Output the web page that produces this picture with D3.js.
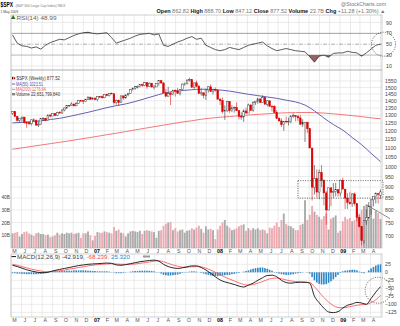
<!DOCTYPE html>
<html>
<head>
<meta charset="utf-8">
<script src="https://d3js.org/d3.v7.min.js"></script>
<style>
body { margin: 0; background: #fff; }
text { font-family: "Liberation Sans", Arial, sans-serif; }
</style>
</head>
<body>
<svg width="400" height="326"></svg>
<script>
// weekly $SPX bars, week ending 5 May 2006 .. 1 May 2009
var opens = [1312.0,1325.8,1291.2,1267.0,1280.2,1288.2,1252.3,1251.5,1244.5,1270.2,1265.5,1236.2,1240.3,1278.6,1279.4,1266.7,1302.3,1295.1,1311.0,1298.9,1319.7,1314.8,1335.9,1349.6,1365.6,1368.6,1377.3,1364.3,1380.9,1401.2,1400.9,1396.7,1409.8,1427.1,1410.8,
 1418.3,1409.7,1430.7,1430.5,1422.2,1448.4,1438.1,1455.5,1451.2,1387.2,1402.8,1387.0,1436.1,1420.9,1443.8,1452.9,1484.4,1494.1,1505.6,1505.9,1522.8,1515.7,1536.3,1507.7,1532.9,1502.6,1503.4,1530.4,1552.5,1534.1,1459.0,1433.1,1453.6,1445.9,1479.4,1474.0,1453.6,1484.3,1525.8,1526.8,1557.6,1561.8,1500.6,1535.3,1509.7,1453.7,1458.7,1440.7,1481.1,1504.7,1468.0,1484.5,
 1478.5,1411.6,1401.0,1325.2,1330.6,1395.4,1331.3,1350.0,1353.1,1330.6,1293.4,1288.1,1329.5,1315.2,1370.4,1332.8,1390.3,1397.8,1413.9,1388.3,1425.4,1375.9,1400.4,1360.7,1360.0,1317.9,1278.4,1262.9,1239.5,1260.7,1257.8,1260.3,1296.3,1298.2,1292.2,1282.8,1242.3,1251.7,1255.1,1213.3,1099.2,899.2,940.6,876.8,968.8,931.0,873.3,800.0,896.2,876.1,879.7,887.9,
 872.8,931.8,890.4,850.1,832.0,825.9,868.6,826.8,770.1,735.1,683.4,756.6,768.5,815.9,842.5,856.6,869.6,862.8];
var highs = [1326.7,1326.7,1294,1281,1290,1288,1258,1258,1272,1281,1273,1261,1280,1287,1283,1303,1304,1312,1315,1324,1328,1340,1353,1366,1370,1389.5,1381,1392,1403.8,1407,1402,1415,1431.6,1428,1427,
 1429,1431.2,1435,1441,1449.3,1452,1456.8,1461.6,1456.2,1410,1409,1437.7,1437,1445,1453,1484.6,1498,1510,1513.8,1522.8,1529,1540.6,1540,1538.7,1534,1517,1532,1555.9,1555.1,1541,1488,1503.9,1466.3,1480,1481.5,1496,1485,1530,1538,1561,1576.1,1562,1535.5,1552.8,1520,1492,1460,1488.9,1510,1523.6,1486,1498.8,
 1479,1422,1424.5,1368.6,1396,1397,1368,1361,1388,1335,1321,1341,1352,1380,1378,1395.9,1399,1422.7,1416,1440.2,1427,1406,1404,1370,1370,1335,1290,1279,1262,1291,1284,1297,1313,1300,1300.7,1303,1274,1255.2,1255.1,1213.5,1099,1006.9,985.4,984.4,1007.5,936,882.3,896.3,896.2,918.6,918.9,888,
 934.7,943.9,890.4,871.6,877.9,870.8,875,827,780,735.1,758.3,803,833,845.6,856.9,875.6,871.8,888.7];
var lows = [1303,1290,1259,1253,1259.6,1245.3,1219.3,1237,1234,1262,1233,1224.5,1240,1262,1261,1266.7,1285,1295,1294,1298,1311,1312,1327,1343,1356,1368,1360,1363,1378,1398,1377.8,1396,1406,1407,1410,
 1403,1397,1423,1416,1420,1433,1431.6,1448,1374,1373,1364,1386,1408,1416,1433,1452,1476,1482,1491,1500,1505,1510,1490,1505,1500,1484,1503,1512,1529,1458.9,1432,1433,1370.6,1440,1432,1453,1439,1476,1512,1526,1546,1500,1489.6,1499,1451,1438,1416.8,1406,1460,1467,1446,1468,
 1411,1370,1312,1270,1322,1316.8,1321,1317.5,1329,1272.7,1270,1257,1312,1315,1331,1324,1371,1379,1385,1386,1374,1362,1360,1326,1317,1278,1260,1225,1200.4,1248,1234,1247,1283,1261,1261,1236,1225,1133.5,1187,1098,839.8,865.8,852.9,845.3,899.7,818.7,741,798.7,815.7,851.4,857.3,857,
 857,888,804.3,804.3,821.7,812.9,818.4,754.3,731.1,666.8,672.9,741.5,765,779.8,814.5,826.8,826.8,847.1];
var closes = [1325.8,1291.2,1267.0,1280.2,1288.2,1252.3,1251.5,1244.5,1270.2,1265.5,1236.2,1240.3,1278.6,1279.4,1266.7,1302.3,1295.1,1311.0,1298.9,1319.7,1314.8,1335.9,1349.6,1365.6,1368.6,1377.3,1364.3,1380.9,1401.2,1400.9,1396.7,1409.8,1427.1,1410.8,1418.3,
 1409.7,1430.7,1430.5,1422.2,1448.4,1438.1,1455.5,1451.2,1387.2,1402.8,1387.0,1436.1,1420.9,1443.8,1452.9,1484.4,1494.1,1505.6,1505.9,1522.8,1515.7,1536.3,1507.7,1532.9,1502.6,1503.4,1530.4,1552.5,1534.1,1459.0,1433.1,1453.6,1445.9,1479.4,1474.0,1453.6,1484.3,1525.8,1526.8,1557.6,1561.8,1500.6,1535.3,1509.7,1453.7,1458.7,1440.7,1481.1,1504.7,1468.0,1484.5,1478.5,
 1411.6,1401.0,1325.2,1330.6,1395.4,1331.3,1350.0,1353.1,1330.6,1293.4,1288.1,1329.5,1315.2,1370.4,1332.8,1390.3,1397.8,1413.9,1388.3,1425.4,1375.9,1400.4,1360.7,1360.0,1317.9,1278.4,1262.9,1239.5,1260.7,1257.8,1260.3,1296.3,1298.2,1292.2,1282.8,1242.3,1251.7,1255.1,1213.3,1099.2,899.2,940.6,876.8,968.8,931.0,873.3,800.0,896.2,876.1,879.7,887.9,872.8,
 931.8,890.4,850.1,832.0,825.9,868.6,826.8,770.1,735.1,683.4,756.6,768.5,815.9,842.5,856.6,869.6,866.2,877.5];
// weekly volume, billions of shares
var volumes = [11.5,12.0,12.5,9.0,11.0,12.5,13.0,11.5,10.5,9.5,11.5,12.0,11.0,11.0,10.0,10.5,8.5,9.0,10.0,12.0,10.5,11.5,11.0,12.0,11.5,12.0,11.0,11.5,12.0,8.0,11.5,11.5,13.0,10.0,6.0,
 9.5,12.5,12.0,12.0,13.0,12.5,12.0,11.5,16.5,13.5,14.5,12.0,11.5,9.0,11.5,13.0,13.5,13.0,12.5,13.5,11.0,13.5,14.0,13.5,13.0,12.5,8.0,13.5,14.0,17.5,19.0,20.0,20.5,14.0,15.5,13.0,14.0,14.5,12.0,13.5,14.0,15.5,14.5,16.0,17.5,15.0,12.0,17.0,14.5,15.0,14.0,7.0,
 14.5,17.5,20.0,22.0,17.5,16.0,14.0,14.5,15.5,17.0,18.0,18.5,13.5,15.5,14.0,15.5,14.5,15.5,14.0,14.5,14.0,11.5,16.0,15.5,17.5,20.0,16.5,22.0,27.0,19.0,17.5,17.0,15.5,14.0,14.0,18.0,19.0,37.5,22.0,26.0,33.0,28.5,26.0,24.5,22.5,25.0,27.0,14.5,23.0,24.0,25.5,12.0,
 13.5,21.0,24.5,22.5,23.5,21.0,22.0,28.5,27.0,30.0,33.0,34.0,30.5,31.0,23.0,29.0,27.5,22.7];
// MACD histogram, weekly
var macdHist = [-3,-3,-4,-4,-5,-5,-6,-6,-6,-6,-6,-6,-5,-4,-3,-2,0,
 1,3,3,4,4,5,5,5,5,6,6,6,6,6,6,5,5,4,4,3,3,3,3,3,2,1,
 -1,-3,-3,-3,-2,-1,0,2,3,4,4,5,5,5,5,5,4,3,1,-1,
 -4,-8,-9,-10,-10,-9,-8,-7,-5,-2,-1,1,2,3,3,2,0,-2,-4,-6,-8,-10,-11,-12,
 -12,-11,-10,-9,-8,-8,-6,-5,-3,-2,0,2,4,6,9,11,13,14,15,15,13,11,8,5,1,-2,-4,-6,-7,-8,-8,-7,-6,-4,-3,-2,-1,0,-1,
 -4,-15,-25,-32,-36,-38,-38,-37,-33,-28,-22,-15,-8,-2,3,5,6,7,8,8,6,2,-2,-3,0,6,12,17,21,24,25];
// indicator lines read every 2nd week
var rsi14 = [67,52,47,46,43,45,41,48,53,56,59,58,62,66,69,71,72,70,69,70,
 71,62,52,55,58,61,65,68,69,70,67,69,48,46,50,54,57,61,64,59,
 61,48,44,40,38,40,44,42,40,44,48,50,52,54,47,42,38,40,42,40,
 38,37,36,27,17,28,30,26,33,34,34,37,35,34,28,34,41,48,50];
var macdLine = [22,18,13,8,4,1,-1,-1,2,6,9,12,15,18,21,23,25,26,27,28,
 29,28,23,22,24,27,30,33,35,37,38,35,25,18,14,12,14,17,20,20,
 15,7,-3,-14,-24,-30,-34,-38,-43,-46,-40,-34,-25,-17,-10,-9,-14,-25,-32,-34,
 -32,-31,-31,-34,-75,-95,-112,-124,-126,-123,-112,-103,-99,-94,-96,-100,-82,-62,-45];
var macdSignal = [25,22,18,14,10,7,4,2,2,3,5,7,10,12,15,17,20,22,24,25,
 26,27,26,25,25,25,26,28,30,32,35,36,33,28,23,19,16,16,17,18,
 17,13,7,0,-7,-15,-21,-27,-33,-38,-40,-38,-34,-29,-23,-19,-18,-20,-24,-27,
 -29,-30,-31,-32,-45,-62,-79,-93,-104,-110,-111,-109,-106,-103,-101,-100,-95,-86,-72];
// moving averages read every 4th week
var ma50 = [1250,1254,1258,1264,1272,1280,1292,1306,1320,1336,1352,1366,1378,1395,1415,1435,1455,1468,1476,1482,
 1486,1486,1480,1472,1460,1448,1438,1428,1418,1405,1392,1370,1330,1282,1240,1205,1160,1118,1070,1025];
var ma200 = [1092,1100,1108,1116,1124,1132,1140,1149,1158,1167,1177,1186,1196,1206,1216,1226,1236,1246,1256,1264,
 1274,1281,1287,1292,1297,1302,1306,1310,1314,1317,1318,1319,1318,1315,1310,1304,1298,1291,1283,1277];

var priceTicks = [700,750,800,850,900,950,1000,1050,1100,1150,1200,1250,1300,1350,1400,1450,1500,1550];
var volTicks = [10,20,30,40];
var rsiTicks = [10,30,50,70,90];
var macdTicks = [25,0,-25,-50,-75,-100,-125];
var monthLetters = ["J","F","M","A","M","J","J","A","S","O","N","D"];

var weeks = d3.range(closes.length).map(function(i){ return d3.timeDay.offset(new Date(2006,4,5), i*7); });
var n = weeks.length;

var svg = d3.select("svg");
var L = 11, R = 382;
var rsiTop = 15, rsiBot = 70, mainTop = 70, mainBot = 248, macdTop = 254, macdBot = 317;

var x = d3.scaleTime().domain([weeks[0], weeks[n-1]]).range([12.5, 380.5]);
var yP = d3.scaleLog().domain([700,1550]).range([236,81]);
var yV = d3.scaleLinear().domain([0,40]).range([248,197]);
var yR = d3.scaleLinear().domain([0,100]).range([71.4,17]);
var yM = d3.scaleLinear().domain([-125,25]).range([312.3,264.3]);

var months = d3.timeMonth.range(new Date(2006,4,1), new Date(2009,4,2));
var gridCol = "#e2e2e2";

var defs = svg.append("defs");
function clip(id, y0, y1) {
  defs.append("clipPath").attr("id", id).append("rect")
    .attr("x", L).attr("y", y0).attr("width", R-L).attr("height", y1-y0);
}
clip("cRsi", rsiTop, rsiBot); clip("cMain", mainTop, mainBot); clip("cMacd", macdTop, macdBot);
clip("cRsiLow", yR(30), rsiBot); clip("cRsiHigh", rsiTop, yR(70));

// vertical month grid in every panel
[[rsiTop,rsiBot],[mainTop,mainBot],[macdTop,macdBot]].forEach(function(p){
  svg.append("g").selectAll("line").data(months).join("line")
    .attr("x1", function(d){ return x(d); }).attr("x2", function(d){ return x(d); })
    .attr("y1", p[0]).attr("y2", p[1])
    .attr("stroke", gridCol).attr("stroke-width", 0.7);
});

// horizontal grid
svg.append("g").selectAll("line").data(priceTicks).join("line")
  .attr("x1", L).attr("x2", R).attr("y1", function(d){ return yP(d); }).attr("y2", function(d){ return yP(d); })
  .attr("stroke", gridCol).attr("stroke-width", 0.7);
svg.append("g").selectAll("line").data(macdTicks).join("line")
  .attr("x1", L).attr("x2", R).attr("y1", function(d){ return yM(d); }).attr("y2", function(d){ return yM(d); })
  .attr("stroke", gridCol).attr("stroke-width", 0.7);
svg.append("g").selectAll("line").data(rsiTicks).join("line")
  .attr("x1", L).attr("x2", R).attr("y1", function(d){ return yR(d); }).attr("y2", function(d){ return yR(d); })
  .attr("stroke", function(d){ return (d==70||d==30) ? "#9a9a9a" : (d==50 ? "#8a8a8a" : gridCol); })
  .attr("stroke-dasharray", function(d){ return d==50 ? "4,1.5,1,1.5" : null; })
  .attr("stroke-width", 0.7);

// ---- RSI panel
var rsiX = function(d,k){ return x(weeks[2*k]); };
var rsiArea = d3.area().x(rsiX).y0(yR(30)).y1(function(d){ return yR(d); });
svg.append("path").datum(rsi14).attr("clip-path","url(#cRsiLow)")
  .attr("d", rsiArea).attr("fill", "#9a5f5f");
var rsiArea2 = d3.area().x(rsiX).y0(yR(70)).y1(function(d){ return yR(d); });
svg.append("path").datum(rsi14).attr("clip-path","url(#cRsiHigh)")
  .attr("d", rsiArea2).attr("fill", "#2f5f2f");
svg.append("path").datum(rsi14).attr("clip-path","url(#cRsi)")
  .attr("d", d3.line().x(rsiX).y(function(d){ return yR(d); }))
  .attr("fill","none").attr("stroke","#333").attr("stroke-width",0.8);

// ---- main panel: volume, averages, candles
var gm = svg.append("g").attr("clip-path","url(#cMain)");
gm.selectAll("rect.vol").data(volumes).join("rect").attr("class","vol")
  .attr("x", function(d,i){ return x(weeks[i]) - 0.95; }).attr("width", 1.9)
  .attr("y", function(d){ return yV(d); }).attr("height", function(d){ return yV(0) - yV(d); })
  .attr("fill", function(d,i){ return (i>0 && closes[i] < closes[i-1]) ? "#eeaab2" : "#ababab"; });

gm.append("path").datum(ma200)
  .attr("d", d3.line().curve(d3.curveMonotoneX).x(function(d,j){ return x(weeks[4*j]); }).y(function(d){ return yP(d); }))
  .attr("fill","none").attr("stroke","#f06a6a").attr("stroke-width",0.9);
gm.append("path").datum(ma50)
  .attr("d", d3.line().curve(d3.curveMonotoneX).x(function(d,j){ return x(weeks[4*j]); }).y(function(d){ return yP(d); }))
  .attr("fill","none").attr("stroke","#5050a8").attr("stroke-width",0.9);

var idx = d3.range(n);
function isDown(i){ return closes[i] < opens[i]; }
gm.selectAll("line.wick").data(idx).join("line").attr("class","wick")
  .attr("x1", function(i){ return x(weeks[i]); }).attr("x2", function(i){ return x(weeks[i]); })
  .attr("y1", function(i){ return yP(highs[i]); }).attr("y2", function(i){ return yP(lows[i]); })
  .attr("stroke", function(i){ return isDown(i) ? "#d81818" : "#333"; }).attr("stroke-width", 0.6);
gm.selectAll("rect.body").data(idx).join("rect").attr("class","body")
  .attr("x", function(i){ return x(weeks[i]) - 0.85; }).attr("width", 1.7)
  .attr("y", function(i){ return yP(Math.max(opens[i], closes[i])); })
  .attr("height", function(i){ return Math.max(0.6, Math.abs(yP(opens[i]) - yP(closes[i]))); })
  .attr("fill", function(i){ return isDown(i) ? "#e00000" : "#fff"; })
  .attr("stroke", function(i){ return isDown(i) ? "#d00000" : "#333"; }).attr("stroke-width", 0.45);

// ---- MACD panel
var gd = svg.append("g").attr("clip-path","url(#cMacd)");
gd.selectAll("rect").data(macdHist).join("rect")
  .attr("x", function(d,i){ return x(weeks[i]) - 0.8; }).attr("width", 1.6)
  .attr("y", function(d){ return yM(Math.max(0,d)); })
  .attr("height", function(d){ return Math.abs(yM(d) - yM(0)); })
  .attr("fill", "#2f86c6");
var macdX = function(d,k){ return x(weeks[2*k]); };
gd.append("path").datum(macdSignal)
  .attr("d", d3.line().curve(d3.curveMonotoneX).x(macdX).y(function(d){ return yM(d); }))
  .attr("fill","none").attr("stroke","#ff4a4a").attr("stroke-width",0.8);
gd.append("path").datum(macdLine)
  .attr("d", d3.line().curve(d3.curveMonotoneX).x(macdX).y(function(d){ return yM(d); }))
  .attr("fill","none").attr("stroke","#111").attr("stroke-width",0.9);

// ---- annotations
var dotted = "1,1.4";
svg.append("rect")
  .attr("x", x(weeks[121])).attr("y", yP(930))
  .attr("width", R + 1 - x(weeks[121])).attr("height", yP(850) - yP(930))
  .attr("fill","none").attr("stroke","#444").attr("stroke-width",0.8).attr("stroke-dasharray",dotted);
svg.append("line")
  .attr("x1", x(weeks[150])).attr("y1", yP(822)).attr("x2", R + 8).attr("y2", yP(765))
  .attr("stroke","#555").attr("stroke-width",0.7);
svg.append("circle").attr("cx", x(weeks[n-1]) + 3).attr("cy", yR(50)).attr("r", 12)
  .attr("fill","none").attr("stroke","#333").attr("stroke-width",0.8).attr("stroke-dasharray",dotted);
svg.append("circle").attr("cx", x(weeks[155])).attr("cy", yM(-56)).attr("r", 13)
  .attr("fill","none").attr("stroke","#333").attr("stroke-width",0.8).attr("stroke-dasharray",dotted);

// panel borders
[[rsiTop,rsiBot],[mainTop,mainBot],[macdTop,macdBot]].forEach(function(p){
  svg.append("rect").attr("x", L).attr("y", p[0]).attr("width", R-L).attr("height", p[1]-p[0])
    .attr("fill","none").attr("stroke","#b0b0b0").attr("stroke-width",0.6);
});

// ---- axes
function styleAxis(g, size) {
  g.select(".domain").remove();
  g.selectAll("line").remove();
  g.selectAll("text").attr("font-size", size).attr("fill", "#444").attr("font-family", "Liberation Sans, Arial, sans-serif");
}
svg.append("g").attr("transform","translate("+(R+3)+",0)")
  .call(d3.axisRight(yP).tickValues(priceTicks).tickFormat(d3.format("d")).tickSize(0).tickPadding(0))
  .call(styleAxis, 5.2);
svg.append("g").attr("transform","translate("+(R+3)+",0)")
  .call(d3.axisRight(yR).tickValues(rsiTicks).tickSize(0).tickPadding(1))
  .call(styleAxis, 5.2);
svg.append("g").attr("transform","translate("+(R+3)+",0)")
  .call(d3.axisRight(yM).tickValues(macdTicks).tickSize(0).tickPadding(0))
  .call(styleAxis, 5.2);
svg.append("g").attr("transform","translate("+(L-0.5)+",0)")
  .call(d3.axisLeft(yV).tickValues(volTicks).tickFormat(function(d){ return d + "B"; }).tickSize(0).tickPadding(0.5))
  .call(styleAxis, 4.8);

var monthTicks = months.filter(function(d){ return d < new Date(2009,4,1); });
function monthFmt(d) { return d.getMonth() == 0 ? d3.timeFormat("%y")(d) : monthLetters[d.getMonth()]; }
[249.5, 318.5].forEach(function(y0){
  var g = svg.append("g").attr("transform","translate(0,"+y0+")")
    .call(d3.axisBottom(x).tickValues(monthTicks).tickFormat(monthFmt).tickSize(0).tickPadding(0));
  styleAxis(g, 5.3);
  g.selectAll(".tick text").attr("x", 2.7).attr("dy", "0.71em")
    .attr("font-weight", function(d){ return d.getMonth()==0 ? "bold" : null; })
    .attr("fill", function(d){ return d.getMonth()==0 ? "#000" : "#555"; });
});

// ---- header and legends
function txt(x0, y0, s, size, col, opts) {
  var t = svg.append("text").attr("x", x0).attr("y", y0).attr("font-size", size).attr("fill", col).text(s);
  if (opts) Object.keys(opts).forEach(function(k){ t.attr(k, opts[k]); });
  return t;
}
txt(0.5, 7, "$SPX", 6.6, "#000", {"font-weight":"bold", "textLength":12.5, "lengthAdjust":"spacingAndGlyphs"});
txt(15.5, 6.6, "(S&P 500 Large Cap Index) INDX", 4.0, "#777", {"textLength":50, "lengthAdjust":"spacingAndGlyphs"});
txt(0.5, 13.2, "1 May 2009", 4.2, "#444", {"textLength":17.5, "lengthAdjust":"spacingAndGlyphs"});
txt(386, 6, "@StockCharts.com", 4.6, "#777", {"text-anchor":"end", "textLength":45, "lengthAdjust":"spacingAndGlyphs"});

var hdr = svg.append("text").attr("x", 156.5).attr("y", 13.2).attr("font-size", 5.2)
  .attr("textLength", 229).attr("lengthAdjust", "spacingAndGlyphs");
[["Open ", 1], ["862.82 ", 0], ["High ", 1], ["888.70 ", 0], ["Low ", 1], ["847.12 ", 0], ["Close ", 1], ["877.52 ", 0],
 ["Volume ", 1], ["23.7B ", 0], ["Chg ", 1], ["+11.28 (+1.30%) \u25B2", 0]].forEach(function(p){
  hdr.append("tspan").text(p[0]).attr("font-weight", p[1] ? "bold" : null).attr("fill", p[1] ? "#111" : "#777");
});

// RSI legend
svg.append("path").attr("d", d3.symbol(d3.symbolTriangle, 9)()).attr("transform","translate(13.2,17.6)").attr("fill","#2f6f2f");
txt(16.5, 19.6, "RSI(14) 48.99", 5.2, "#666", {"textLength":40, "lengthAdjust":"spacingAndGlyphs"});

// main legend
svg.append("rect").attr("x", 12).attr("y", 76.8).attr("width", 1.4).attr("height", 2.6).attr("fill", "#222");
svg.append("rect").attr("x", 14).attr("y", 77.3).attr("width", 1.2).attr("height", 2).attr("fill", "#e00000");
txt(16.5, 80, "$SPX (Weekly) 877.52", 4.6, "#333", {"textLength":43.5, "lengthAdjust":"spacingAndGlyphs"});
svg.append("line").attr("x1", 11.8).attr("x2", 15.2).attr("y1", 84).attr("y2", 84).attr("stroke", "#5050a8").attr("stroke-width", 0.9);
txt(16, 85.6, "MA(50) 1023.51", 4.6, "#5050a8", {"textLength":27, "lengthAdjust":"spacingAndGlyphs"});
svg.append("line").attr("x1", 11.8).attr("x2", 15.2).attr("y1", 89.3).attr("y2", 89.3).attr("stroke", "#f06a6a").attr("stroke-width", 0.9);
txt(16, 91, "MA(200) 1276.64", 4.6, "#e86060", {"textLength":30, "lengthAdjust":"spacingAndGlyphs"});
svg.append("rect").attr("x", 12).attr("y", 93).attr("width", 3.2).attr("height", 2.4).attr("fill", "#888");
txt(16, 96.3, "Volume 22,651,799,840", 4.6, "#333", {"textLength":44, "lengthAdjust":"spacingAndGlyphs"});

// MACD legend
svg.append("line").attr("x1", 11.5).attr("x2", 16).attr("y1", 256.6).attr("y2", 256.6).attr("stroke", "#111").attr("stroke-width", 1);
var ml = svg.append("text").attr("x", 17).attr("y", 258.6).attr("font-size", 5.2)
  .attr("textLength", 113).attr("lengthAdjust", "spacingAndGlyphs");
ml.append("tspan").text("MACD(12,26,9) -42.919, ").attr("fill", "#444");
ml.append("tspan").text("-68.239, ").attr("fill", "#ff4a4a");
ml.append("tspan").text("25.320").attr("fill", "#2f86c6");
svg.append("rect").attr("x", 143).attr("y", 255.5).attr("width", 7).attr("height", 2).attr("fill", "#999");
</script>
</body>
</html>
